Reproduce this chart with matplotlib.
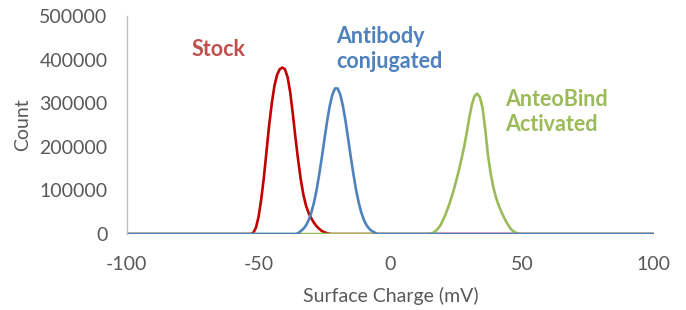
import matplotlib
matplotlib.use("Agg")
import matplotlib.pyplot as plt

# zeta potential distributions
stock_mv = [-100, -53, -52, -51, -50, -49, -48, -47, -46, -45, -44, -43, -42, -41, -40, -39,
            -38, -37, -36, -35, -34, -33, -32, -31, -30, -29, -28, -27, -26, -25, -24, -23, -22, 100]
stock_count = [0, 0, 3000, 15000, 40000, 80000, 130000, 190000, 250000, 300000, 340000, 365000,
               378000, 382000, 378000, 360000, 325000, 275000, 220000, 170000, 125000, 90000,
               65000, 48000, 36000, 26000, 18000, 12000, 7000, 4000, 2000, 500, 0, 0]

antibody_mv = [-100, -36, -35, -34, -33, -32, -31, -30, -29, -28, -27, -26, -25, -24, -23, -22, -21,
               -20, -19, -18, -17, -16, -15, -14, -13, -12, -11, -10, -9, -8, -7, -6, -5, 100]
antibody_count = [0, 0, 2000, 7000, 12000, 20000, 32000, 49000, 72000, 101000, 137000, 176000,
                  218000, 259000, 294000, 320000, 334000, 334000, 320000, 294000, 259000, 218000,
                  176000, 137000, 101000, 72000, 49000, 32000, 20000, 12000, 7000, 3700, 0, 0]

anteo_mv = [-100, 15, 16, 17, 18, 19, 20, 21, 22, 23, 24, 25, 26, 27, 28, 29, 30, 31, 32, 33, 34,
            35, 36, 37, 38, 39, 40, 41, 42, 43, 44, 45, 46, 47, 48, 49, 100]
anteo_count = [0, 0, 2000, 6000, 12000, 20000, 32000, 46000, 62000, 80000, 100000, 122000, 146000,
               172000, 200000, 232000, 268000, 298000, 317000, 322000, 314000, 290000, 242000,
               184000, 142000, 110000, 86000, 68000, 53000, 40000, 28000, 18000, 10000, 5000,
               2000, 0, 0]

x_ticks = [-100, -50, 0, 50, 100]
y_ticks = [0, 100000, 200000, 300000, 400000, 500000]

plt.rcParams["font.family"] = ["Lato", "DejaVu Sans"]
plt.rcParams["axes.unicode_minus"] = False
grey = "#595959"

fig = plt.figure(figsize=(6.86, 3.10), dpi=100)
ax = fig.add_axes([0.185, 0.245, 0.768, 0.703])

ax.plot(stock_mv, stock_count, color="#C00000", lw=1.9, solid_capstyle="round")
ax.plot(anteo_mv, anteo_count, color="#9BBB59", lw=1.9, solid_capstyle="round")
ax.plot(antibody_mv, antibody_count, color="#4F81BD", lw=1.9, solid_capstyle="round")

ax.set_xlim(-100, 100)
ax.set_ylim(0, 500000)
ax.set_xticks(x_ticks)
ax.set_yticks(y_ticks)
ax.tick_params(length=0, labelsize=14, labelcolor=grey)
ax.tick_params(axis="x", pad=16)
ax.tick_params(axis="y", pad=14)

for side in ["top", "right", "bottom"]:
    ax.spines[side].set_visible(False)
ax.spines["left"].set_color("#BFBFBF")
ax.spines["left"].set_linewidth(1.0)

ax.set_xlabel("Surface Charge (mV)", fontsize=14, color=grey, labelpad=10)
ax.set_ylabel("Count", fontsize=14, color=grey, labelpad=6)

ax.text(-75.3, 424000, "Stock", color="#C0504D", fontsize=15.5, fontweight="bold",
        ha="left", va="center")
ax.text(-20.7, 425000, "Antibody\nconjugated", color="#4F81BD", fontsize=15.5,
        fontweight="bold", ha="left", va="center", linespacing=1.2)
ax.text(43.5, 280000, "AnteoBind\nActivated", color="#9BBB59", fontsize=15.5,
        fontweight="bold", ha="left", va="center", linespacing=1.2)

fig.savefig("out.png", dpi=100)
